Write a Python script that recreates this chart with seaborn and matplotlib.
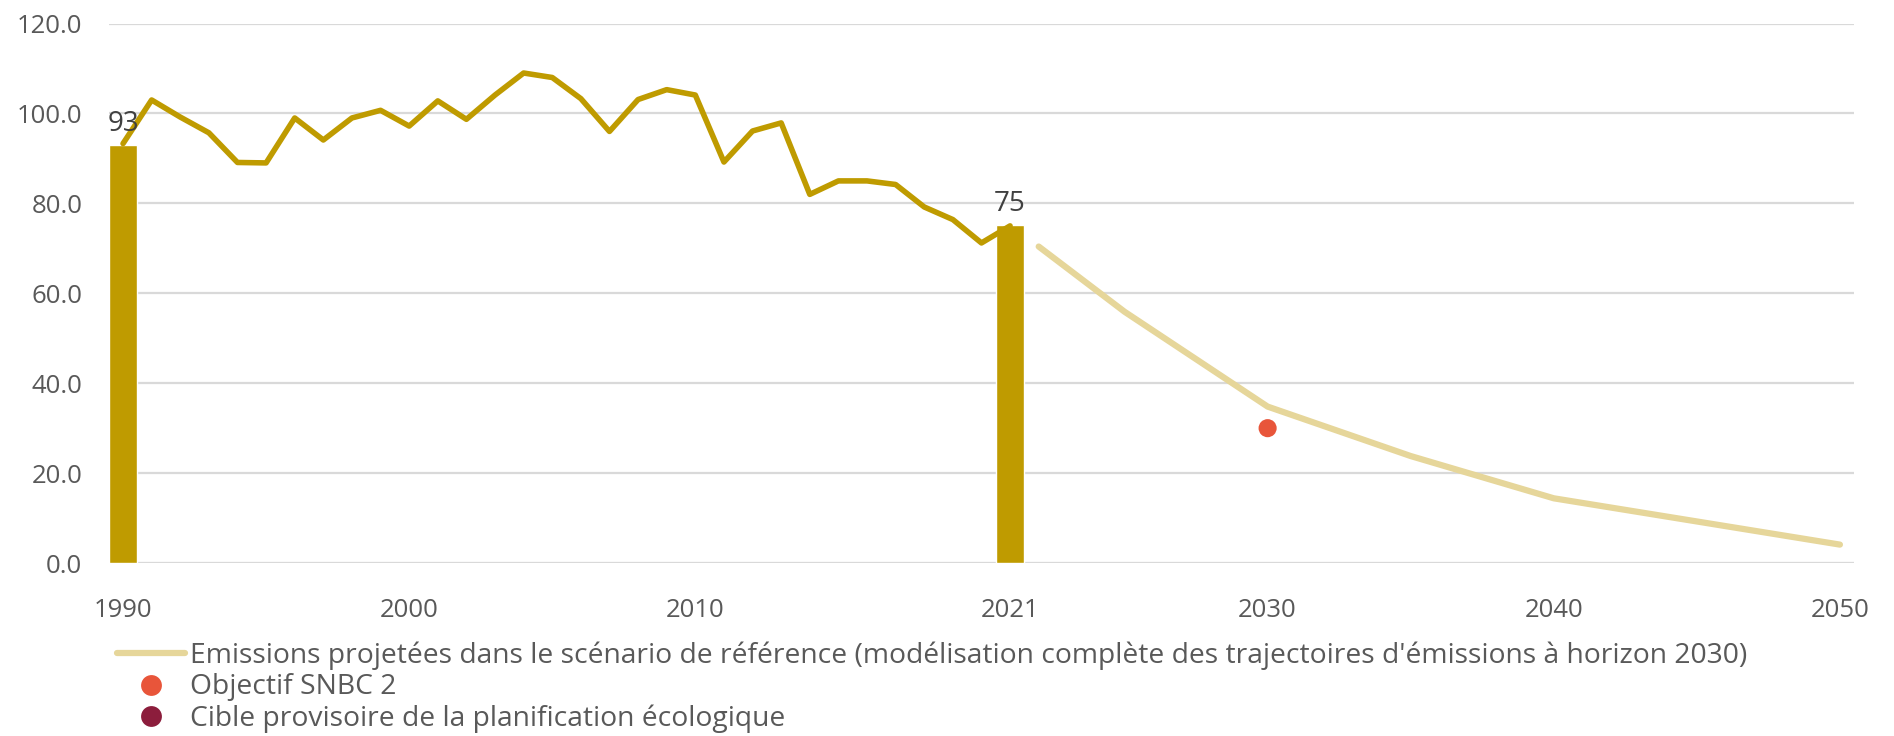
import numpy as np
import matplotlib
matplotlib.use("Agg")
import matplotlib.pyplot as plt
from matplotlib.lines import Line2D
import seaborn as sns

# historical emissions (Mt CO2e)
hist_years = list(range(1990, 2022))
hist_values = [93.3, 103.0, 99.2, 95.7, 89.1, 89.0, 99.0, 94.1, 99.0, 100.7,
               97.2, 102.8, 98.7, 104.1, 109.0, 108.0, 103.3, 96.0, 103.1, 105.3,
               104.1, 89.2, 96.1, 97.9, 82.0, 85.0, 85.0, 84.2, 79.2, 76.4,
               71.2, 75.0]

# highlighted years shown as bars
bar_years = [1990, 2021]
bar_values = [93.0, 75.2]
bar_labels = ["93", "75"]

# projected emissions, reference scenario
proj_years = [2022, 2025, 2030, 2035, 2040, 2050]
proj_values = [70.4, 55.9, 34.8, 23.8, 14.4, 4.1]

# SNBC 2 target
snbc_years = [2030]
snbc_values = [30.0]

xtick_years = [1990, 2000, 2010, 2021, 2030, 2040, 2050]
ytick_values = [0, 20, 40, 60, 80, 100, 120]

legend_labels = [
    "Emissions projetées dans le scénario de référence (modélisation complète des trajectoires d'émissions à horizon 2030)",
    "Objectif SNBC 2",
    "Cible provisoire de la planification écologique",
]

GOLD = "#BF9B00"
PALE = "#E6D69A"
RED = "#E8553A"
MAROON = "#8C1D3C"
GRID = "#D9D9D9"
TEXT = "#595959"

sns.set_style("white")
plt.rcParams["font.family"] = ["Open Sans", "DejaVu Sans"]

fig = plt.figure(figsize=(18.94, 7.36), dpi=100)
ax = fig.add_axes([0.0574, 0.235, 0.9216, 0.733])

# bars: one year wide on a numeric axis
bar_width = 1.0 / np.diff(bar_years).min()
sns.barplot(x=bar_years, y=bar_values, native_scale=True, width=bar_width,
            color=GOLD, saturation=1, ax=ax, zorder=2)

sns.lineplot(x=hist_years, y=hist_values, color=GOLD, lw=4.0, ax=ax, zorder=3)
sns.lineplot(x=proj_years, y=proj_values, color=PALE, lw=4.5, ax=ax, zorder=3)
sns.scatterplot(x=snbc_years, y=snbc_values, color=RED, s=170, edgecolor="none",
                ax=ax, zorder=4)

for yr, val, lab in zip(bar_years, bar_values, bar_labels):
    ax.annotate(lab, (yr, val), xytext=(0, 5), textcoords="offset points",
                ha="center", va="bottom", fontsize=20, color="#404040")

ax.set_xticks(xtick_years)
ax.set_xticklabels([str(y) for y in xtick_years])
ax.set_yticks(ytick_values)
ax.set_yticklabels([f"{v:.1f}" for v in ytick_values])
ax.set_xlim(1989.5, 2050.5)
ax.set_ylim(0, 120)
ax.tick_params(axis="both", length=0, labelsize=18.5, labelcolor=TEXT)
ax.tick_params(axis="y", pad=19)
ax.tick_params(axis="x", pad=25)
ax.yaxis.grid(True, color=GRID, lw=1.6, zorder=0)
ax.axhline(0, color=GRID, lw=2.2, zorder=1)
ax.set_axisbelow(True)
for s in ax.spines.values():
    s.set_visible(False)
ax.set_xlabel("")
ax.set_ylabel("")

handles = [
    Line2D([], [], color=PALE, lw=4.5),
    Line2D([], [], color=RED, marker="o", ls="none", markersize=15, markeredgewidth=0),
    Line2D([], [], color=MAROON, marker="o", ls="none", markersize=15, markeredgewidth=0),
]
leg = fig.legend(handles, legend_labels, loc="upper left", bbox_to_anchor=(117 / 1894, 0.128),
                 frameon=False, fontsize=20.3, handlelength=2.4, handletextpad=0.2,
                 labelspacing=0.11, borderpad=0, borderaxespad=0)
for t in leg.get_texts():
    t.set_color(TEXT)

fig.savefig("out.png", dpi=100, facecolor="white")
